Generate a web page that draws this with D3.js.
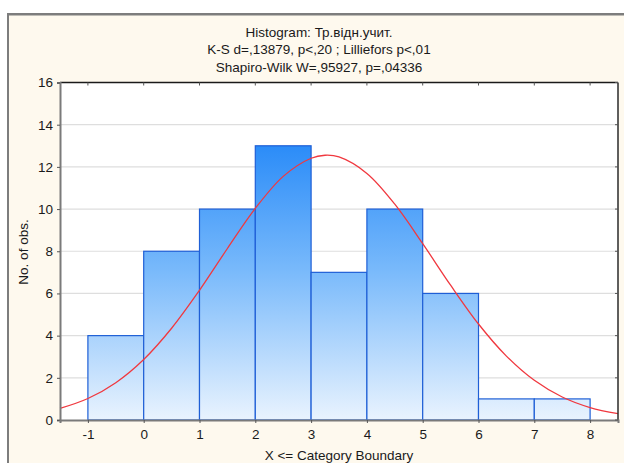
<!DOCTYPE html>
<html>
<head>
<meta charset="utf-8">
<script src="https://cdn.jsdelivr.net/npm/d3@7"></script>
<style>
  html, body { margin: 0; padding: 0; background: #ffffff; }
  svg { display: block; }
  text { font-family: "Liberation Sans", Arial, sans-serif; fill: #1a1a1a; }
</style>
</head>
<body>
<svg id="chart" width="624" height="463"></svg>
<script>
// Histogram bins: lower and upper category boundaries with observed counts
const binLower = [-1, 0, 1, 2, 3, 4, 5, 6, 7];
const binUpper = [0, 1, 2, 3, 4, 5, 6, 7, 8];
const binCounts = [4, 8, 10, 13, 7, 10, 6, 1, 1];

// Fitted normal curve, expected counts at sampled X values
const curveX = [-1.5, -1, -0.5, 0, 0.5, 1, 1.5, 2, 2.5, 3, 3.25, 3.5, 4, 4.5, 5, 5.5, 6, 6.5, 7, 7.5, 8, 8.5];
const curveY = [0.55, 1.02, 1.77, 2.87, 4.35, 6.15, 8.13, 10.03, 11.55, 12.41, 12.55, 12.47, 11.69, 10.23, 8.36, 6.39, 4.55, 3.03, 1.88, 1.09, 0.59, 0.30];

// Axis ticks
const xTicks = [-1, 0, 1, 2, 3, 4, 5, 6, 7, 8];
const yTicks = [0, 2, 4, 6, 8, 10, 12, 14, 16];

const titleLines = [
  "Histogram: Тр.відн.учит.",
  "K-S d=,13879, p<,20 ; Lilliefors p<,01",
  "Shapiro-Wilk W=,95927, p=,04336"
];
const xTitle = "X <= Category Boundary";
const yTitle = "No. of obs.";

const svg = d3.select("#chart");

// Window frame and cream panel
svg.append("rect").attr("x", 0).attr("y", 0).attr("width", 624).attr("height", 463).attr("fill", "#ffffff");
svg.append("rect").attr("x", 7).attr("y", 13).attr("width", 617).attr("height", 450).attr("fill", "#7d7d7d");
svg.append("rect").attr("x", 9).attr("y", 15.5).attr("width", 615).attr("height", 448).attr("fill", "#fef9ee");

const plot = { left: 60, right: 618, top: 82.5, bottom: 420 };

const x = d3.scaleLinear().domain([-1.5, 8.5]).range([plot.left, plot.right]);
const y = d3.scaleLinear().domain([0, 16]).range([plot.bottom, plot.top]);

// Plot background
svg.append("rect")
  .attr("x", plot.left).attr("y", plot.top)
  .attr("width", plot.right - plot.left).attr("height", plot.bottom - plot.top)
  .attr("fill", "#ffffff");

// Horizontal grid lines
svg.append("g")
  .selectAll("line")
  .data(yTicks.filter(d => d > 0 && d < 16))
  .join("line")
  .attr("x1", plot.left).attr("x2", plot.right)
  .attr("y1", d => y(d)).attr("y2", d => y(d))
  .attr("stroke", "#dedede").attr("stroke-width", 1.2);

// Vertical gradient for bar fill, tied to the count scale
const defs = svg.append("defs");
const grad = defs.append("linearGradient")
  .attr("id", "barFill")
  .attr("gradientUnits", "userSpaceOnUse")
  .attr("x1", 0).attr("x2", 0)
  .attr("y1", y(13)).attr("y2", y(0));
grad.append("stop").attr("offset", "0%").attr("stop-color", "#2b8cf8");
grad.append("stop").attr("offset", "45%").attr("stop-color", "#78b9fb");
grad.append("stop").attr("offset", "100%").attr("stop-color", "#e9f3fe");

const bins = binCounts.map((c, i) => ({ lo: binLower[i], hi: binUpper[i], count: c }));

svg.append("g")
  .selectAll("rect")
  .data(bins)
  .join("rect")
  .attr("x", d => x(d.lo))
  .attr("y", d => y(d.count))
  .attr("width", d => x(d.hi) - x(d.lo))
  .attr("height", d => y(0) - y(d.count))
  .attr("fill", "url(#barFill)")
  .attr("stroke", "#1f5fd6")
  .attr("stroke-width", 1.2);

// Normal curve
const line = d3.line()
  .x((d, i) => x(curveX[i]))
  .y(d => y(d))
  .curve(d3.curveCatmullRom.alpha(0.5));

svg.append("path")
  .datum(curveY)
  .attr("d", line)
  .attr("fill", "none")
  .attr("stroke", "#f0383f")
  .attr("stroke-width", 1.3);

// Frame around the plot
svg.append("line").attr("x1", plot.left).attr("x2", plot.right).attr("y1", plot.top).attr("y2", plot.top)
  .attr("stroke", "#1a1a1a").attr("stroke-width", 1.5);
svg.append("line").attr("x1", plot.right).attr("x2", plot.right).attr("y1", plot.top).attr("y2", plot.bottom)
  .attr("stroke", "#2a2a2a").attr("stroke-width", 1.5);

// Plain hyphen-minus for negative labels
const intLabel = d => String(d);

// Axes
const yAxis = d3.axisLeft(y).tickValues(yTicks).tickFormat(intLabel).tickSize(3).tickPadding(4);
const yG = svg.append("g").attr("transform", `translate(${plot.left},0)`).call(yAxis);
yG.select(".domain").attr("stroke", "#7a7a7a").attr("stroke-width", 2);
yG.selectAll(".tick line").attr("stroke", "#555");
yG.selectAll(".tick text")
  .attr("font-size", 13.5).attr("fill", "#1a1a1a")
  .style("font-family", "'Liberation Sans', Arial, sans-serif");

const xAxis = d3.axisBottom(x).tickValues(xTicks).tickFormat(intLabel).tickSize(3).tickPadding(6);
const xG = svg.append("g").attr("transform", `translate(0,${plot.bottom})`).call(xAxis);
xG.select(".domain").attr("stroke", "#7a7a7a").attr("stroke-width", 2);
xG.selectAll(".tick line").attr("stroke", "#555");
xG.selectAll(".tick text")
  .attr("font-size", 13.5).attr("fill", "#1a1a1a")
  .style("font-family", "'Liberation Sans', Arial, sans-serif");

// Small inner ticks on top and right borders
svg.append("g").selectAll("line").data(xTicks).join("line")
  .attr("x1", d => x(d)).attr("x2", d => x(d))
  .attr("y1", plot.top).attr("y2", plot.top + 3)
  .attr("stroke", "#555");
svg.append("g").selectAll("line").data(yTicks).join("line")
  .attr("x1", plot.right - 3).attr("x2", plot.right)
  .attr("y1", d => y(d)).attr("y2", d => y(d))
  .attr("stroke", "#555");

// Titles
svg.append("g").selectAll("text").data(titleLines).join("text")
  .attr("x", 319).attr("y", (d, i) => 36.5 + i * 17.5)
  .attr("text-anchor", "middle")
  .attr("font-size", 13.5)
  .text(d => d);

svg.append("text")
  .attr("x", 339).attr("y", 460)
  .attr("text-anchor", "middle")
  .attr("font-size", 13.5)
  .text(xTitle);

svg.append("text")
  .attr("transform", "translate(28,252) rotate(-90)")
  .attr("text-anchor", "middle")
  .attr("font-size", 13.5)
  .text(yTitle);
</script>
</body>
</html>
